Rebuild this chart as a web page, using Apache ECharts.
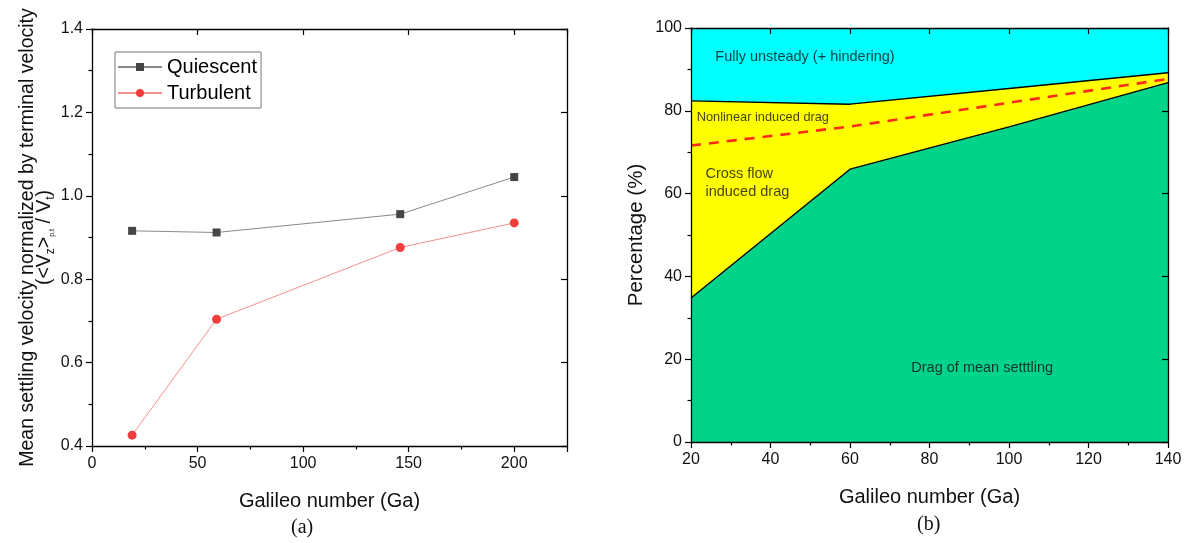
<!DOCTYPE html>
<html>
<head>
<meta charset="utf-8">
<script src="https://cdn.jsdelivr.net/npm/echarts@6/dist/echarts.min.js"></script>
<style>html,body{margin:0;padding:0;background:#fff}#c{width:1187px;height:543px}</style>
</head>
<body>
<div id="c"></div>
<script>
// ---- Panel (a) data ----
const gaA = [19, 59, 146, 200];
const quiescent = [0.916, 0.912, 0.956, 1.045];
const turbulent = [0.426, 0.704, 0.876, 0.935];
const xTicksA = [0, 50, 100, 150, 200];
const yTicksA = [0.4, 0.6, 0.8, 1.0, 1.2, 1.4];

// ---- Panel (b) data ----
const gaB = [20, 60, 100, 140];
const meanSettling = [34.8, 65.9, 76.1, 86.8];
const nonlinearTop = [82.4, 81.6, 85.4, 89.2];
const fullTop = [100, 100, 100, 100];
const gaDash = [20, 60, 140];
const dashLine = [71.6, 76.2, 87.7];
const regionLabels = ['Fully unsteady (+ hindering)', 'Nonlinear induced drag', 'Cross flow\ninduced drag', 'Drag of mean setttling'];
const regionLabelX = [26.0, 21.3, 23.5, 75.3];
const regionLabelY = [93.0, 78.3, 62.6, 17.9];

const pairs = (xs, ys) => xs.map((x, i) => [x, ys[i]]);
const F = 'Liberation Sans, Arial, sans-serif';

const chart = echarts.init(document.getElementById('c'));

const mainAxis = (extra) => Object.assign({
  type: 'value',
  z: 10,
  axisLine: { show: true, onZero: false, lineStyle: { color: '#000', width: 1.3 } },
  axisTick: { show: true, length: 6, lineStyle: { color: '#000', width: 1.2 } },
  minorTick: { show: true, splitNumber: 2, length: 3.5, lineStyle: { color: '#000', width: 1.2 } },
  splitLine: { show: false },
  axisLabel: { color: '#111', fontSize: 16, fontFamily: F },
  nameTextStyle: { color: '#111', fontSize: 20, fontFamily: F }
}, extra);

const mirrorAxis = (extra) => Object.assign({
  type: 'value',
  z: 10,
  axisLine: { show: true, onZero: false, lineStyle: { color: '#000', width: 1.3 } },
  axisTick: { show: true, inside: true, length: 6, lineStyle: { color: '#000', width: 1.2 } },
  minorTick: { show: false },
  splitLine: { show: false },
  axisLabel: { show: false }
}, extra);

const option = {
  animation: false,
  backgroundColor: '#fff',
  grid: [
    { left: 92, right: 620, top: 29, bottom: 97 },
    { left: 691, right: 19, top: 28, bottom: 101 }
  ],
  legend: {
    left: 115, top: 52,
    orient: 'vertical',
    data: ['Quiescent', 'Turbulent'],
    itemWidth: 44, itemHeight: 10, itemGap: 6,
    borderColor: '#777', borderWidth: 1,
    padding: [5, 4, 5, 2],
    textStyle: { color: '#000', fontSize: 20, fontFamily: F }
  },
  xAxis: [
    mainAxis({ gridIndex: 0, min: 0, max: 225, interval: 50, position: 'bottom',
      name: 'Galileo number (Ga)', nameLocation: 'middle', nameGap: 45,
      axisLabel: { color: '#111', fontSize: 16, fontFamily: F, margin: 10,
        formatter: v => xTicksA.includes(v) ? String(v) : '' } }),
    mirrorAxis({ gridIndex: 0, min: 0, max: 225, interval: 50, position: 'top' }),
    mainAxis({ gridIndex: 1, min: 20, max: 140, interval: 20, position: 'bottom',
      name: 'Galileo number (Ga)', nameLocation: 'middle', nameGap: 45,
      axisLabel: { color: '#111', fontSize: 16, fontFamily: F, margin: 10 } }),
    mirrorAxis({ gridIndex: 1, min: 20, max: 140, interval: 20, position: 'top' })
  ],
  yAxis: [
    mainAxis({ gridIndex: 0, min: 0.4, max: 1.4, interval: 0.2, position: 'left',
      name: 'Mean settling velocity normalized by terminal velocity\n{a|(<V}{s|z}{a|>}{ss|p,t}{a| / V}{s|t}{a|)}',
      nameLocation: 'middle', nameGap: 37, nameRotate: 90,
      nameTextStyle: { color: '#111', fontSize: 19.5, fontFamily: F, lineHeight: 17,
        rich: {
          a: { fontSize: 19.5, fontFamily: F, color: '#111', lineHeight: 17 },
          s: { fontSize: 12, fontFamily: F, color: '#111', verticalAlign: 'bottom', lineHeight: 17, padding: [0, 0, -4, 0] },
          ss: { fontSize: 7, fontFamily: F, color: '#111', verticalAlign: 'bottom', lineHeight: 17, padding: [0, 0, -3, 0] }
        } },
      axisLabel: { color: '#111', fontSize: 16, fontFamily: F, margin: 9,
        formatter: v => yTicksA.some(t => Math.abs(t - v) < 1e-6) ? v.toFixed(1) : '' } }),
    mirrorAxis({ gridIndex: 0, min: 0.4, max: 1.4, interval: 0.2, position: 'right' }),
    mainAxis({ gridIndex: 1, min: 0, max: 100, interval: 20, position: 'left',
      name: 'Percentage (%)', nameLocation: 'middle', nameGap: 44, nameRotate: 90,
      nameTextStyle: { color: '#111', fontSize: 20.5, fontFamily: F },
      axisLabel: { color: '#111', fontSize: 16, fontFamily: F, margin: 9 } }),
    mirrorAxis({ gridIndex: 1, min: 0, max: 100, interval: 20, position: 'right' })
  ],
  series: [
    {
      name: 'Quiescent', type: 'line', xAxisIndex: 0, yAxisIndex: 0,
      data: pairs(gaA, quiescent),
      symbol: 'rect', symbolSize: 8,
      itemStyle: { color: '#454545' },
      lineStyle: { color: '#8a8a8a', width: 1 }
    },
    {
      name: 'Turbulent', type: 'line', xAxisIndex: 0, yAxisIndex: 0,
      data: pairs(gaA, turbulent),
      symbol: 'circle', symbolSize: 9,
      itemStyle: { color: '#f23d3d' },
      lineStyle: { color: '#f49090', width: 1 }
    },
    {
      name: 'Fully unsteady', type: 'line', xAxisIndex: 2, yAxisIndex: 2,
      data: pairs(gaB, fullTop), symbol: 'none',
      lineStyle: { width: 0 },
      areaStyle: { color: '#00ffff', opacity: 1, origin: 'start' }
    },
    {
      name: 'Nonlinear', type: 'line', xAxisIndex: 2, yAxisIndex: 2,
      data: pairs(gaB, nonlinearTop), symbol: 'none',
      lineStyle: { color: '#000', width: 1.4 },
      areaStyle: { color: '#ffff00', opacity: 1, origin: 'start' }
    },
    {
      name: 'Mean settling', type: 'line', xAxisIndex: 2, yAxisIndex: 2,
      data: pairs(gaB, meanSettling), symbol: 'none',
      lineStyle: { color: '#000', width: 1.4 },
      areaStyle: { color: '#00d38a', opacity: 1, origin: 'start' }
    },
    {
      name: 'Split', type: 'line', xAxisIndex: 2, yAxisIndex: 2,
      data: pairs(gaDash, dashLine), symbol: 'none',
      lineStyle: { color: '#ff2a1a', width: 2.6, type: [10, 8] }
    },
    {
      name: 'Labels', type: 'scatter', xAxisIndex: 2, yAxisIndex: 2,
      symbolSize: 1, silent: true, z: 5,
      itemStyle: { color: 'rgba(0,0,0,0)' },
      data: regionLabels.map((t, i) => ({ value: [regionLabelX[i], regionLabelY[i]], name: t,
        label: { fontSize: i === 1 ? 12.8 : 14.5 } })),
      label: { show: true, position: 'right', distance: 0, formatter: p => p.name,
        color: '#111', fontSize: 14.5, fontFamily: F, lineHeight: 18 }
    }
  ],
  graphic: [
    { type: 'text', left: 291, top: 518, style: { text: '(a)', fontSize: 20, fontFamily: 'Liberation Serif, Times New Roman, serif', fill: '#111' } },
    { type: 'text', left: 917, top: 515, style: { text: '(b)', fontSize: 20, fontFamily: 'Liberation Serif, Times New Roman, serif', fill: '#111' } }
  ]
};
chart.setOption(option);
</script>
</body>
</html>
